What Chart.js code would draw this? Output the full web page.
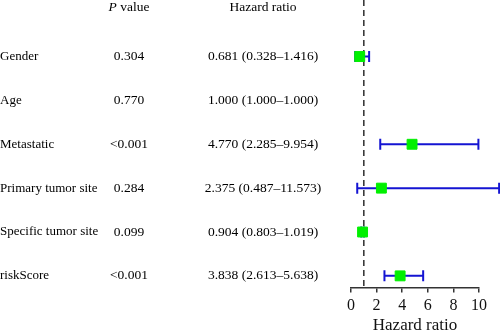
<!DOCTYPE html>
<html>
<head>
<meta charset="utf-8">
<script src="https://cdn.jsdelivr.net/npm/chart.js@4.4.0/dist/chart.umd.min.js"></script>
<style>
  html, body { margin: 0; padding: 0; background: #fff; }
  #wrap { width: 500px; height: 332px; position: relative; }
</style>
</head>
<body>
<div id="wrap"><canvas id="c" width="500" height="332"></canvas></div>
<script>
// ---- data ----
const variables = ['Gender', 'Age', 'Metastatic', 'Primary tumor site', 'Specific tumor site', 'riskScore'];
const pValues = ['0.304', '0.770', '<0.001', '0.284', '0.099', '<0.001'];
const hazardRatio = [0.681, 1.000, 4.770, 2.375, 0.904, 3.838];
const lowerCI = [0.328, 1.000, 2.285, 0.487, 0.803, 2.613];
const upperCI = [1.416, 1.000, 9.954, 11.573, 1.019, 5.638];
const xTickValues = [0, 2, 4, 6, 8, 10];
const referenceLine = 1;
const headerP = 'P value';
const headerHR = 'Hazard ratio';
const axisTitle = 'Hazard ratio';

const SERIF = '"Liberation Serif", "DejaVu Serif", serif';
const TXT = '13.5px ' + SERIF;
const LBL = '13px ' + SERIF;
const hrText = hazardRatio.map((v, i) =>
  v.toFixed(3) + ' (' + lowerCI[i].toFixed(3) + '\u2013' + upperCI[i].toFixed(3) + ')');

const forestPlugin = {
  id: 'forest',
  beforeDatasetsDraw(chart) {
    const ctx = chart.ctx;
    const xs = chart.scales.x, ys = chart.scales.y;
    const area = chart.chartArea;
    // dashed reference line
    ctx.save();
    ctx.strokeStyle = '#3a3a3a';
    ctx.lineWidth = 1.6;
    ctx.setLineDash([6, 4]);
    const rx = xs.getPixelForValue(referenceLine);
    ctx.beginPath();
    ctx.moveTo(rx, 0);
    ctx.lineTo(rx, area.bottom);
    ctx.stroke();
    ctx.restore();
    // CI whiskers
    ctx.save();
    ctx.strokeStyle = '#1414d2';
    ctx.lineWidth = 2;
    for (let i = 0; i < variables.length; i++) {
      if (lowerCI[i] === upperCI[i]) continue;
      const y = ys.getPixelForValue(i);
      const x1 = xs.getPixelForValue(lowerCI[i]);
      const x2 = xs.getPixelForValue(upperCI[i]);
      ctx.beginPath();
      ctx.moveTo(x1, y); ctx.lineTo(x2, y);
      ctx.moveTo(x1, y - 5.5); ctx.lineTo(x1, y + 5.5);
      ctx.moveTo(x2, y - 5.5); ctx.lineTo(x2, y + 5.5);
      ctx.stroke();
    }
    ctx.restore();
  },
  afterDraw(chart) {
    const ctx = chart.ctx;
    const ys = chart.scales.y;
    ctx.save();
    ctx.fillStyle = '#000';
    ctx.textBaseline = 'middle';
    // headers
    const headerY = 7;
    ctx.font = 'italic ' + TXT;
    const pW = ctx.measureText('P').width;
    ctx.font = TXT;
    const restW = ctx.measureText(headerP.slice(1)).width;
    const pStart = 129 - (pW + restW) / 2;
    ctx.textAlign = 'left';
    ctx.font = 'italic ' + TXT;
    ctx.fillText('P', pStart, headerY);
    ctx.font = TXT;
    ctx.fillText(headerP.slice(1), pStart + pW, headerY);
    ctx.textAlign = 'center';
    ctx.fillText(headerHR, 263, headerY);
    // rows
    for (let i = 0; i < variables.length; i++) {
      const y = ys.getPixelForValue(i);
      ctx.textAlign = 'left';
      ctx.font = LBL;
      ctx.fillText(variables[i], 0, y);
      ctx.textAlign = 'center';
      ctx.font = TXT;
      ctx.fillText(pValues[i], 129, y);
      ctx.fillText(hrText[i], 263, y);
    }
    ctx.restore();
  }
};

new Chart(document.getElementById('c'), {
  type: 'scatter',
  data: {
    datasets: [{
      data: hazardRatio.map((v, i) => ({ x: v, y: i })),
      pointStyle: 'rect',
      backgroundColor: '#00f000',
      borderColor: '#00f000',
      borderWidth: 1,
      pointRadius: (c) => (lowerCI[c.dataIndex] === upperCI[c.dataIndex] ? 0 : 7),
      clip: false
    }]
  },
  options: {
    responsive: false,
    animation: false,
    events: [],
    layout: { padding: { left: 351, right: 21, top: 0, bottom: 0 } },
    plugins: { legend: { display: false }, tooltip: { enabled: false } },
    scales: {
      x: {
        type: 'linear',
        min: 0, max: 10,
        afterBuildTicks: (s) => { s.ticks = xTickValues.map(v => ({ value: v })); },
        afterFit: (s) => { s.height = 44.5; },
        ticks: { font: { family: SERIF, size: 16 }, color: '#111', padding: 4, maxRotation: 0 },
        grid: { drawOnChartArea: false, drawTicks: true, tickLength: 5, color: '#333', lineWidth: 1.5 },
        border: { color: '#333', width: 1.5 },
        title: { display: true, text: axisTitle, font: { family: SERIF, size: 17, lineHeight: 0.8 }, color: '#111', padding: 0 }
      },
      y: {
        type: 'linear',
        display: false,
        reverse: true,
        min: -1.106, max: 5.265
      }
    }
  },
  plugins: [forestPlugin]
});
</script>
</body>
</html>
